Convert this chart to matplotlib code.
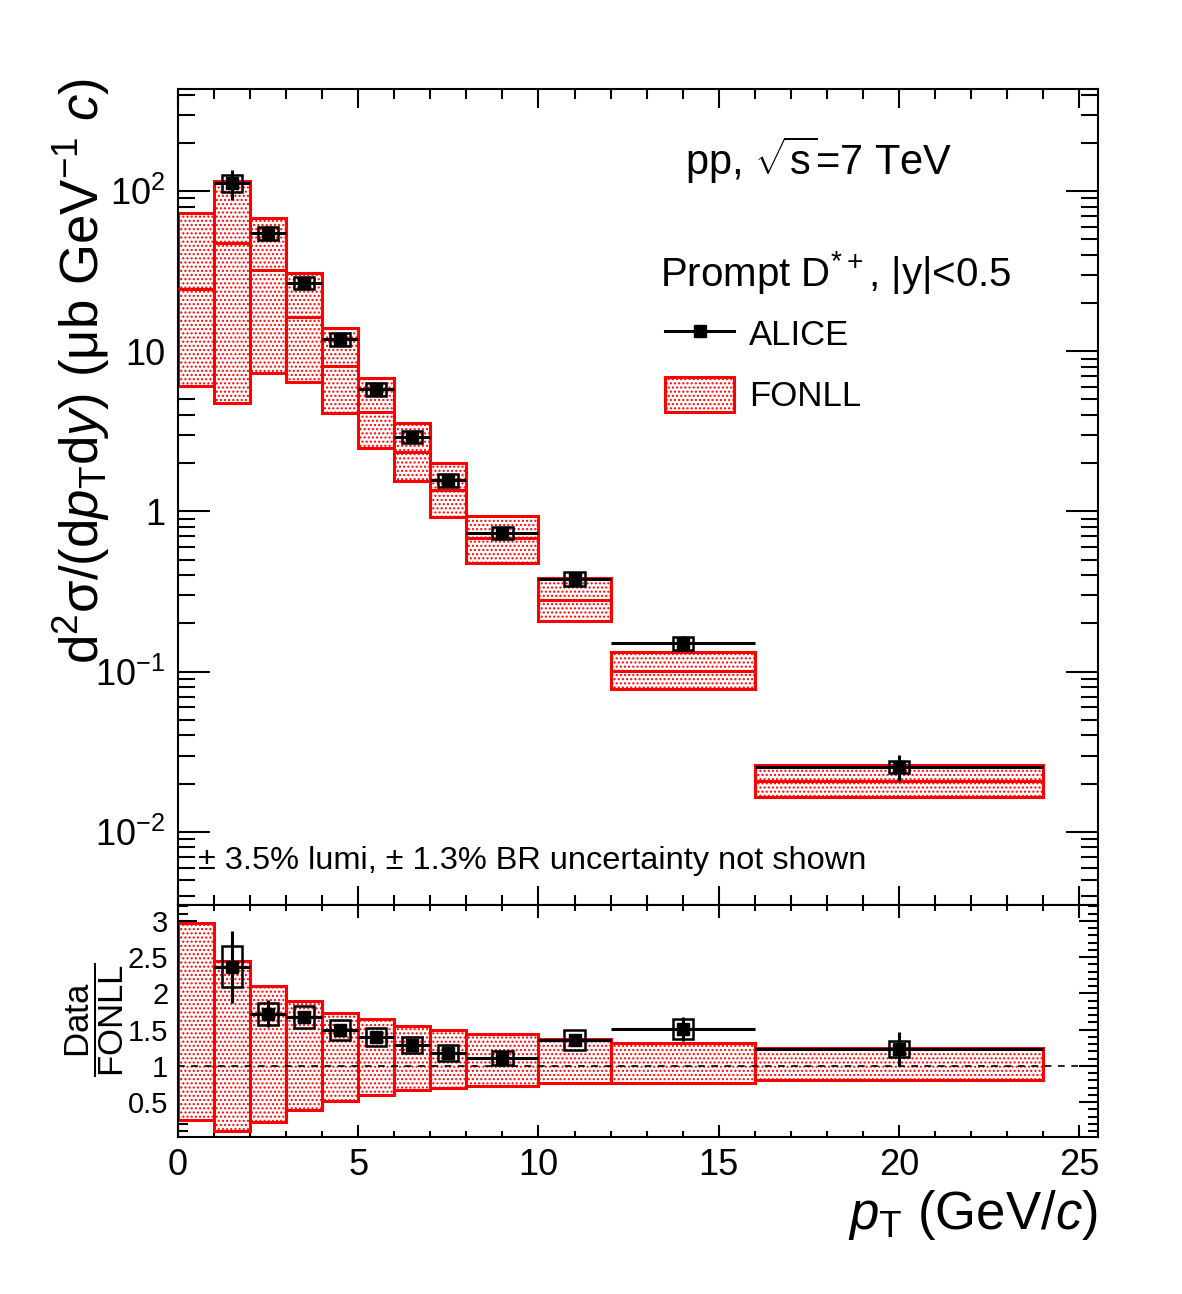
import matplotlib
matplotlib.use("Agg")
import matplotlib.pyplot as plt
from matplotlib.lines import Line2D
from matplotlib.patches import Patch
from matplotlib.ticker import FixedLocator, FixedFormatter, MultipleLocator, LogLocator, NullFormatter
import numpy as np

plt.rcParams["font.family"] = ["Liberation Sans", "DejaVu Sans"]
plt.rcParams["mathtext.fontset"] = "custom"
plt.rcParams["mathtext.rm"] = "Liberation Sans"
plt.rcParams["mathtext.it"] = "Liberation Sans:italic"
plt.rcParams["mathtext.bf"] = "Liberation Sans:bold"
plt.rcParams["mathtext.sf"] = "Liberation Sans"
plt.rcParams["hatch.linewidth"] = 1.0

# FONLL bins (pT, GeV/c)
bin_lo = [0, 1, 2, 3, 4, 5, 6, 7, 8, 10, 12, 16]
bin_hi = [1, 2, 3, 4, 5, 6, 7, 8, 10, 12, 16, 24]
fonll_central = [24.4, 47.3, 32.1, 16.4, 8.09, 4.18, 2.35, 1.36, 0.684, 0.281, 0.101, 0.0209]
fonll_max = [73, 115, 68, 30.8, 14.0, 6.81, 3.57, 2.01, 0.94, 0.385, 0.133, 0.0262]
fonll_min = [6.07, 4.75, 7.3, 6.43, 4.12, 2.49, 1.55, 0.925, 0.477, 0.207, 0.078, 0.0166]

# FONLL band in the ratio panel
ratio_band_hi = [2.97, 2.45, 2.10, 1.90, 1.73, 1.65, 1.55, 1.50, 1.44, 1.37, 1.32, 1.25]
ratio_band_lo = [0.25, 0.10, 0.23, 0.39, 0.52, 0.60, 0.67, 0.70, 0.72, 0.76, 0.76, 0.81]

# ALICE prompt D*+
alice_pt = [1.5, 2.5, 3.5, 4.5, 5.5, 6.5, 7.5, 9, 11, 14, 20]
alice_lo = [1, 2, 3, 4, 5, 6, 7, 8, 10, 12, 16]
alice_hi = [2, 3, 4, 5, 6, 7, 8, 10, 12, 16, 24]
alice_y = [112, 54.7, 26.7, 11.9, 5.81, 2.92, 1.57, 0.735, 0.379, 0.151, 0.0255]
alice_stat = [0.21, 0.11, 0.05, 0.04, 0.04, 0.04, 0.04, 0.05, 0.06, 0.11, 0.19]   # relative
alice_syst = [0.12, 0.09, 0.09, 0.09, 0.09, 0.09, 0.09, 0.09, 0.10, 0.09, 0.09]   # relative
ratio_y = [2.37, 1.72, 1.68, 1.50, 1.40, 1.29, 1.18, 1.11, 1.36, 1.51, 1.23]

ytick_vals = [0.01, 0.1, 1, 10, 100]
ytick_labels = ["$10^{-2}$", "$10^{-1}$", "1", "10", "$10^{2}$"]

lo = np.array(bin_lo, float)
hi = np.array(bin_hi, float)
fmax = np.array(fonll_max)
fmin = np.array(fonll_min)
px = np.array(alice_pt, float)
py = np.array(alice_y)
xerr = [px - np.array(alice_lo), np.array(alice_hi) - px]
ry = np.array(ratio_y)
stat = np.array(alice_stat)
syst = np.array(alice_syst)

fig = plt.figure(figsize=(11.82, 12.94), dpi=100)
ax1 = fig.add_axes([0.1506, 0.3006, 0.7783, 0.6306])
ax2 = fig.add_axes([0.1506, 0.1213, 0.7783, 0.1793])

red = "#ff0000"
box_w = 0.56
xmax = 25.52

# upper panel
ax1.bar(lo, fmax - fmin, bottom=fmin, width=hi - lo, align="edge",
        facecolor="white", edgecolor=red, hatch="....", linewidth=2.2, zorder=2)
ax1.hlines(fonll_central, lo, hi, colors=red, linewidth=2.2, zorder=3)
ax1.bar(px, py * 2 * syst, bottom=py * (1 - syst), width=box_w, align="center",
        fill=False, edgecolor="black", linewidth=1.8, zorder=4)
ax1.errorbar(px, py, xerr=xerr, yerr=py * stat, fmt="s", color="black", ms=8.5,
             elinewidth=2.2, capsize=0, zorder=5)

ax1.set_yscale("log")
ax1.set_xlim(0, xmax)
ax1.set_ylim(0.0035, 433)
ax1.yaxis.set_major_locator(FixedLocator(ytick_vals))
ax1.yaxis.set_major_formatter(FixedFormatter(ytick_labels))
ax1.yaxis.set_minor_locator(LogLocator(base=10, subs=np.arange(2, 10), numticks=20))
ax1.yaxis.set_minor_formatter(NullFormatter())
ax1.xaxis.set_major_locator(MultipleLocator(5))
ax1.xaxis.set_minor_locator(MultipleLocator(1))
ax1.tick_params(axis="x", labelbottom=False)
ax1.tick_params(which="both", direction="in", top=True, right=True, width=1.5)
ax1.tick_params(axis="y", which="major", length=23, labelsize=26, pad=9)
ax1.tick_params(axis="y", which="minor", length=12)
ax1.tick_params(axis="x", which="major", length=14)
ax1.tick_params(axis="x", which="minor", length=7)
for s in ax1.spines.values():
    s.set_linewidth(1.5)

# lower panel
ax2.bar(lo, np.array(ratio_band_hi) - np.array(ratio_band_lo), bottom=ratio_band_lo,
        width=hi - lo, align="edge", facecolor="white", edgecolor=red, hatch="....",
        linewidth=2.2, zorder=2)
ax2.axhline(1, color="black", linestyle=(0, (4, 4)), linewidth=1.2, zorder=3)
ax2.bar(px, ry * 2 * syst, bottom=ry * (1 - syst), width=box_w, align="center",
        fill=False, edgecolor="black", linewidth=1.8, zorder=4)
ax2.errorbar(px, ry, xerr=xerr, yerr=ry * stat, fmt="s", color="black", ms=8.5,
             elinewidth=2.2, capsize=0, zorder=5)
ax2.set_xlim(0, xmax)
ax2.set_ylim(0.02, 3.22)
ax2.xaxis.set_major_locator(MultipleLocator(5))
ax2.xaxis.set_minor_locator(MultipleLocator(1))
ax2.yaxis.set_major_locator(FixedLocator([0.5, 1, 1.5, 2, 2.5, 3]))
ax2.yaxis.set_major_formatter(FixedFormatter(["0.5", "1", "1.5", "2", "2.5", "3"]))
ax2.yaxis.set_minor_locator(MultipleLocator(0.1))
ax2.tick_params(which="both", direction="in", top=True, right=True, width=1.5)
ax2.tick_params(axis="y", which="major", length=14, labelsize=21, pad=7)
ax2.tick_params(axis="y", which="minor", length=7)
ax2.tick_params(axis="x", which="major", length=9, labelsize=26, pad=8)
ax2.tick_params(axis="x", which="minor", length=4.5)
for s in ax2.spines.values():
    s.set_linewidth(1.5)

# texts
fig.text(0.0685, 1 - 78 / 1294, "d$^{2}$σ/(d$p_{\\rm T}$d$y$) (μb GeV$^{-1}$ $c$)",
         rotation=90, ha="center", va="top", fontsize=38)
fig.text(0.929, 1 - 1188 / 1294, "$p_{\\rm T}$ (GeV/$c$)", ha="right", va="top", fontsize=38)
fig.text(0.080, 1 - 1020 / 1294, r"$\dfrac{\rm Data}{\rm FONLL}$", rotation=90,
         ha="center", va="center", fontsize=25)
fig.text(685 / 1182, 1 - 160 / 1294, r"pp, $\sqrt{\mathrm{s}}$=7 TeV", ha="left", va="center", fontsize=30)
fig.text(660 / 1182, 1 - 272 / 1294, "Prompt D$^{*+}$, |y|<0.5", ha="left", va="center", fontsize=29)
fig.text(198 / 1182, 1 - 861 / 1294, "± 3.5% lumi, ± 1.3% BR uncertainty not shown",
         ha="left", va="center", fontsize=23.4)

handles = [Line2D([], [], color="black", marker="s", ms=8.5, lw=2.2),
           Patch(facecolor="white", edgecolor=red, hatch="....", linewidth=2.2)]
fig.legend(handles, ["ALICE", "FONLL"], loc="upper left",
           bbox_to_anchor=(665 / 1182, 1 - 316 / 1294), bbox_transform=fig.transFigure,
           frameon=False, fontsize=25, handlelength=2.0, handleheight=1.17,
           handletextpad=0.43, labelspacing=0.72, borderpad=0, borderaxespad=0)

fig.savefig("out.png", dpi=100)
